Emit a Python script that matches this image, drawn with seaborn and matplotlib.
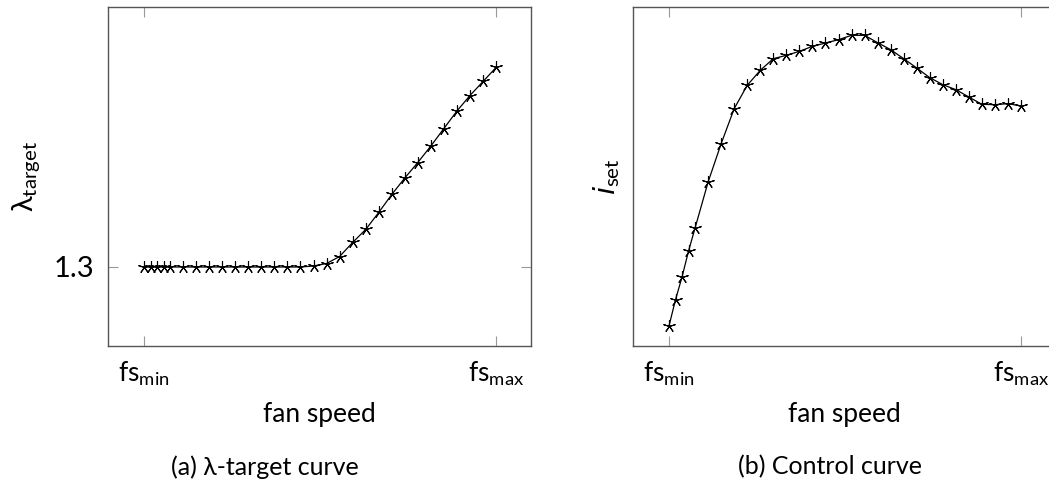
import matplotlib
matplotlib.use("Agg")
import matplotlib.pyplot as plt
import seaborn as sns
import pandas as pd

# ---- data ----
fan_speed = [0, 0.5, 1, 1.5, 2, 3, 4, 5, 6, 7, 8, 9, 10, 11, 12, 13, 14, 15,
             16, 17, 18, 19, 20, 21, 22, 23, 24, 25, 26, 27]
lambda_target = [1.3, 1.3, 1.3, 1.3, 1.3, 1.3, 1.3, 1.3, 1.3, 1.3, 1.3, 1.3,
                 1.3, 1.3, 1.3, 1.302, 1.307, 1.321, 1.349, 1.375, 1.409,
                 1.445, 1.478, 1.509, 1.542, 1.577, 1.612, 1.643, 1.671, 1.699]
i_set = [2.3, 10.2, 17.0, 24.8, 31.7, 45.5, 57.0, 67.5, 74.5, 79.0, 82.5,
         83.5, 84.7, 86.2, 87.2, 88.2, 89.5, 89.5, 87.3, 85.2, 82.5, 79.7,
         76.8, 74.7, 73.2, 71.0, 68.8, 68.7, 69.0, 68.3]
x_ticks = [0, 27]
x_tick_labels = [r"fs$_{\mathregular{min}}$", r"fs$_{\mathregular{max}}$"]
y_ticks_a = [1.3]
y_tick_labels_a = ["1.3"]
captions = ["(a) λ-target curve", "(b) Control curve"]

df = pd.DataFrame({"fan speed": fan_speed, "lambda": lambda_target, "iset": i_set})

sns.set_style("white")
plt.rcParams["font.family"] = ["Lato", "DejaVu Sans"]
plt.rcParams["font.weight"] = "normal"
plt.rcParams["mathtext.default"] = "regular"
plt.rcParams["text.color"] = "black"
plt.rcParams["xtick.color"] = "black"
plt.rcParams["ytick.color"] = "black"
plt.rcParams["axes.labelcolor"] = "black"

fig = plt.figure(figsize=(10.49, 4.93), dpi=100)
ax1 = fig.add_axes([108 / 1049, 1 - 346 / 493, 423 / 1049, 339 / 493])
ax2 = fig.add_axes([633 / 1049, 1 - 346 / 493, 423 / 1049, 339 / 493])

mk = dict(marker=(5, 2, 0), markersize=9, markeredgecolor="black",
          markeredgewidth=0.8, color="black", linewidth=0.9)

sns.lineplot(data=df, x="fan speed", y="lambda", ax=ax1, **mk)
sns.lineplot(data=df, x="fan speed", y="iset", ax=ax2, **mk)

for ax in (ax1, ax2):
    ax.set_xlim(-2.76, 29.68)
    ax.set_xticks(x_ticks)
    ax.set_xticklabels(x_tick_labels, fontsize=19)
    ax.tick_params(axis="x", direction="in", length=7, width=0.8, color="#999999",
                   labelcolor="black", top=True, bottom=True, pad=10)
    ax.set_xlabel("fan speed", fontsize=19, labelpad=10)
    for s in ax.spines.values():
        s.set_color("#555555")
        s.set_linewidth(1.0)

ax1.set_ylim(1.142, 1.82)
ax1.set_yticks(y_ticks_a)
ax1.set_yticklabels(y_tick_labels_a, fontsize=21)
ax1.tick_params(axis="y", direction="in", length=7, width=0.8, color="#999999",
                labelcolor="black", left=True, right=True, pad=10)
ax1.set_ylabel(r"$\lambda_{\mathregular{target}}$", fontsize=21, labelpad=8)

ax2.set_ylim(-3.7, 98)
ax2.set_yticks([])
ax2.set_ylabel(r"$\mathit{i}_{\mathregular{set}}$", fontsize=21, labelpad=8)

fig.text(265 / 1049, 1 - 467 / 493, captions[0], fontsize=18,
         ha="center", va="center")
fig.text(830 / 1049, 1 - 467 / 493, captions[1], fontsize=18,
         ha="center", va="center")

fig.savefig("out.png", dpi=100)
